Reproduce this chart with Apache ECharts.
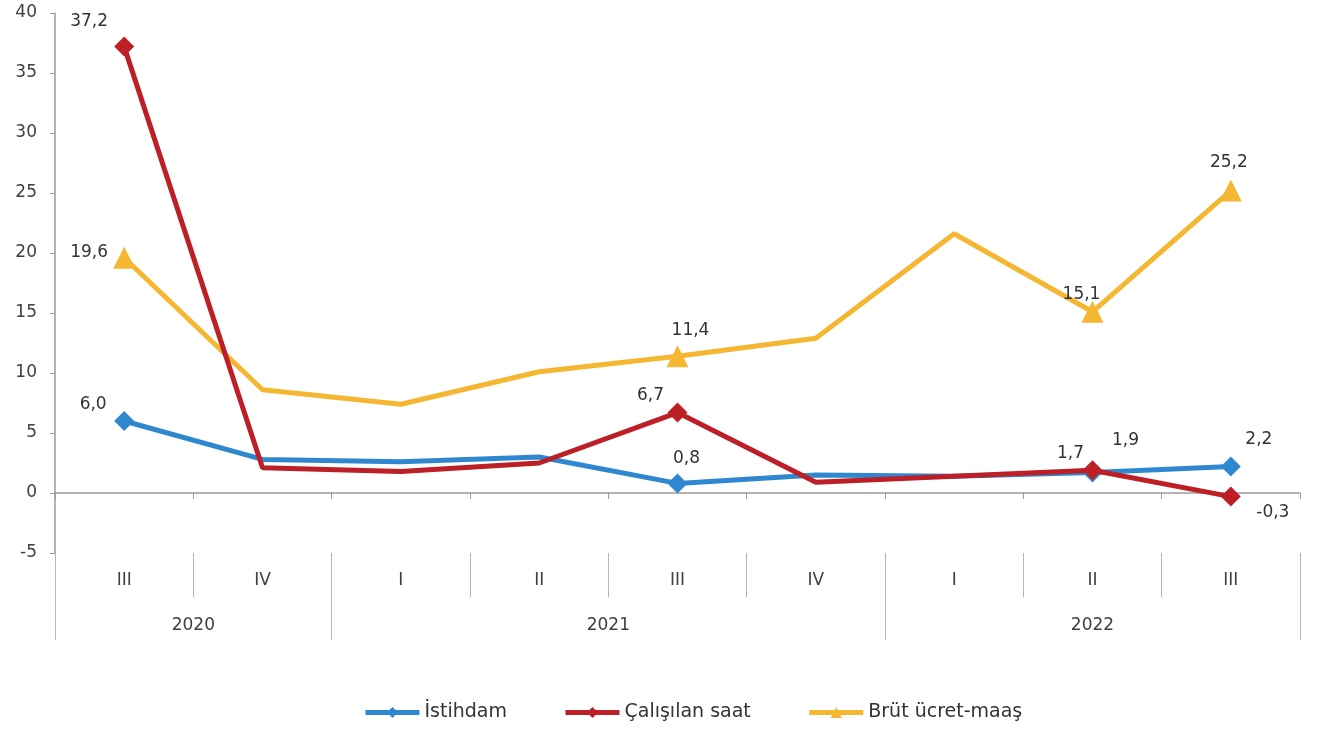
<!DOCTYPE html>
<html>
<head>
<meta charset="utf-8">
<script src="https://cdn.jsdelivr.net/npm/echarts@6/dist/echarts.min.js"></script>
<style>html,body{margin:0;padding:0;background:#fff}#c{width:1317px;height:733px}</style>
</head>
<body>
<div id="c"></div>
<script>
const quarters = ['III','IV','I','II','III','IV','I','II','III'];
const years = ['2020','2021','2022'];
const yearCenters = [1, 4, 7.5];
const yearBounds = [0, 2, 6, 9];
const seriesNames = ['İstihdam','Çalışılan saat','Brüt ücret-maaş'];
const istihdam = [6.0, 2.8, 2.6, 3.0, 0.8, 1.5, 1.4, 1.7, 2.2];
const calisilan = [37.2, 2.1, 1.8, 2.5, 6.7, 0.9, 1.4, 1.9, -0.3];
const brut = [19.6, 8.6, 7.4, 10.1, 11.4, 12.9, 21.6, 15.1, 25.2];
// which points carry a marker + value label (label offset from point)
const istihdamLabels = {0:[-31,-16], 4:[9,-25], 7:[-22,-19], 8:[28,-27]};
const calisilanLabels = {0:[-35,-25], 4:[-27,-17], 7:[33,-30], 8:[42,16]};
const brutLabels = {0:[-35,-5], 4:[13,-26], 7:[-11,-17], 8:[-2,-28]};

const colors = ['#2F88CF','#BC1F26','#F5B731'];
const FONT = 'DejaVu Sans';
const fmt = v => v.toFixed(1).replace('.', ',');

function build(values, labels, symSize) {
  return values.map((v, i) => {
    if (labels[i]) {
      return {value: v, symbolSize: symSize,
        label: {show: true, position: 'inside', offset: labels[i], formatter: fmt(v),
          fontSize: 17, color: '#333', fontFamily: FONT}};
    }
    return {value: v, symbolSize: 0};
  });
}

const chart = echarts.init(document.getElementById('c'), null, {renderer: 'canvas'});
const txt = {color: '#404040', fontSize: 17, fontFamily: FONT};
chart.setOption({
  animation: false,
  grid: {left: 55, right: 17, top: 13, bottom: 180, containLabel: false},
  xAxis: [
    {type: 'category', data: quarters, boundaryGap: true,
     axisLine: {onZero: true, lineStyle: {color: '#9a9a9a', width: 1.5}},
     axisTick: {show: true, length: 6, lineStyle: {color: '#9a9a9a'}},
     axisLabel: {show: false}, splitLine: {show: false}},
    {type: 'category', data: quarters, boundaryGap: true, position: 'bottom',
     axisLine: {show: false, onZero: false},
     axisTick: {show: true, length: 44, lineStyle: {color: '#b5b5b5'}},
     axisLabel: Object.assign({margin: 19}, txt), splitLine: {show: false}},
    {type: 'value', min: 0, max: 9, position: 'bottom',
     axisLine: {show: false, onZero: false},
     axisTick: {show: true, length: 87, customValues: yearBounds, lineStyle: {color: '#b5b5b5'}},
     axisLabel: Object.assign({margin: 64, customValues: yearCenters,
       formatter: v => years[yearCenters.indexOf(v)] || ''}, txt),
     splitLine: {show: false}}
  ],
  yAxis: {type: 'value', min: -5, max: 40, interval: 5,
    axisLine: {show: true, lineStyle: {color: '#9a9a9a', width: 1.5}},
    axisTick: {show: true, length: 5, lineStyle: {color: '#9a9a9a'}},
    axisLabel: Object.assign({margin: 18}, txt),
    splitLine: {show: false}},
  legend: {
    bottom: 6, left: 358, itemWidth: 54, itemHeight: 14, itemGap: 56,
    lineStyle: {width: 5},
    textStyle: {color: '#333', fontSize: 19, fontFamily: FONT},
    data: seriesNames
  },
  series: [
    {name: seriesNames[0], type: 'line', data: build(istihdam, istihdamLabels, 20),
     symbol: 'diamond', showSymbol: true, color: colors[0], lineStyle: {width: 5, color: colors[0]},
     itemStyle: {color: colors[0]}, z: 2},
    {name: seriesNames[1], type: 'line', data: build(calisilan, calisilanLabels, 20),
     symbol: 'diamond', showSymbol: true, color: colors[1], lineStyle: {width: 5, color: colors[1]},
     itemStyle: {color: colors[1]}, z: 3},
    {name: seriesNames[2], type: 'line', data: build(brut, brutLabels, 22),
     symbol: 'triangle', showSymbol: true, color: colors[2], lineStyle: {width: 5, color: colors[2]},
     itemStyle: {color: colors[2]}, z: 1}
  ]
});
</script>
</body>
</html>
